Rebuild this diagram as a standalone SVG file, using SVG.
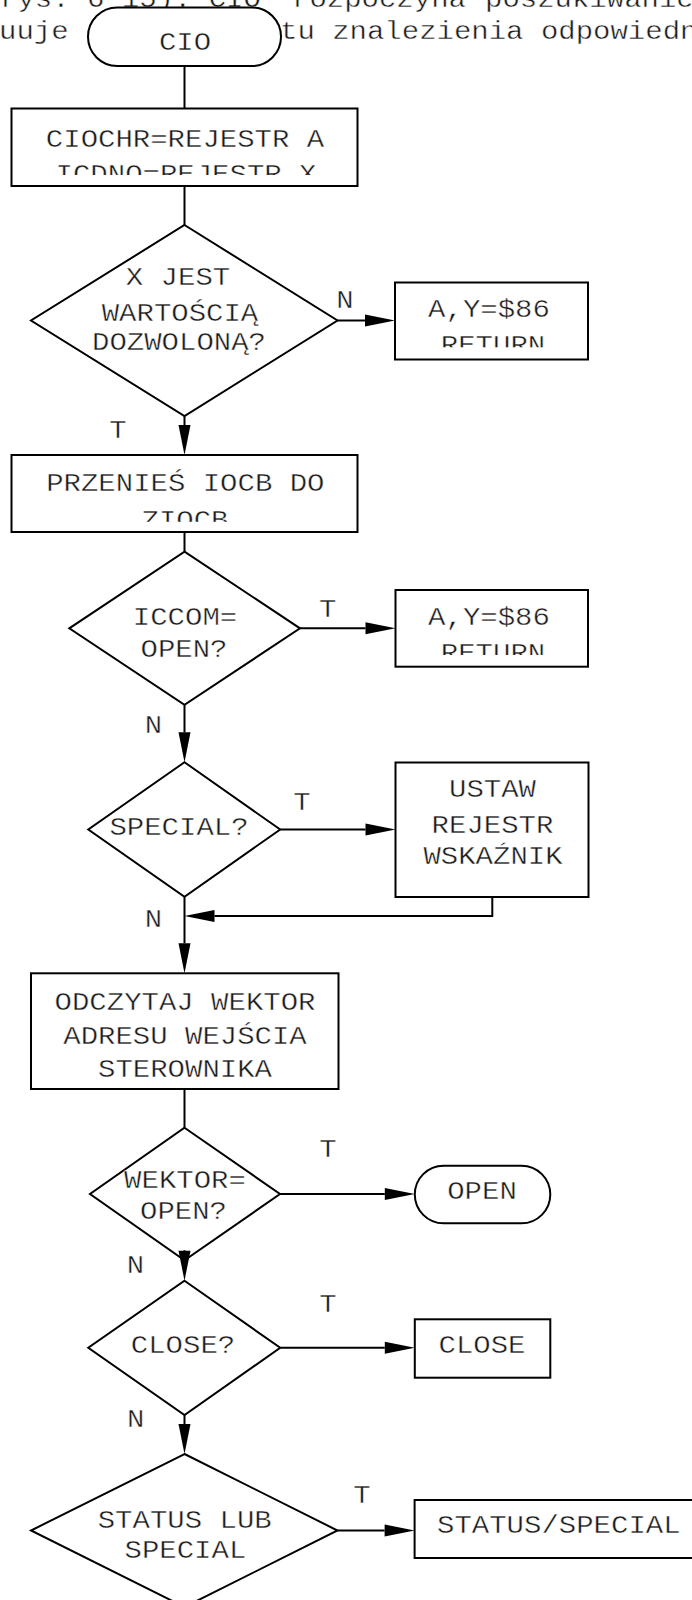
<svg xmlns="http://www.w3.org/2000/svg" width="692" height="1600" viewBox="0 0 692 1600">
  <style>
    .t { font-family: "Liberation Mono", "Courier New", monospace; font-size: 29px; fill: #1a1a1a; stroke: #fff; stroke-width: 0.45px; text-anchor: middle; }
    .s { text-anchor: start; }
    .box { fill: #fff; stroke: #000; stroke-width: 2; }
    .ln { fill: none; stroke: #000; stroke-width: 2; }
    .arr { marker-end: url(#ah); }
  </style>
  <defs>
    <marker id="ah" markerUnits="userSpaceOnUse" markerWidth="30" markerHeight="12" refX="0" refY="6" orient="auto" overflow="visible">
      <path d="M0,0 L30,6 L0,12 Z" fill="#000"/>
    </marker>
    <!-- text areas of the boxes whose second line is cut short -->
    <clipPath id="c1" clipPathUnits="userSpaceOnUse"><rect x="12" y="109" width="345" height="66"/></clipPath>
    <clipPath id="c2" clipPathUnits="userSpaceOnUse"><rect x="396" y="283" width="191" height="64.3"/></clipPath>
    <clipPath id="c3" clipPathUnits="userSpaceOnUse"><rect x="12" y="456" width="345" height="65.7"/></clipPath>
    <clipPath id="c4" clipPathUnits="userSpaceOnUse"><rect x="396" y="591" width="191" height="64"/></clipPath>
  </defs>

  <!-- surrounding page text (justified lines, partly hidden) -->
  <g id="page-text">
    <text class="t s" transform="translate(0,6.7) scale(1,.86)">rys. 6 15). CIO</text>
    <text class="t s" transform="translate(292,6.7) scale(1,.86)">rozpoczyna</text>
    <text class="t s" transform="translate(485,6.7) scale(1,.86)">poszukiwanie</text>
    <text class="t s" transform="translate(-1,39.3) scale(1,.86)">uuje</text>
    <text class="t s" transform="translate(280,39.3) scale(1,.86)">tu znalezienia odpowiedn</text>
  </g>

  <!-- connectors -->
  <g id="connectors">
    <path class="ln" d="M184.5,66 V108.5"/>
    <path class="ln" d="M184.5,186 V225"/>
    <path class="ln arr" d="M337.5,320.5 H365"/>
    <path class="ln arr" d="M184.5,416 V425"/>
    <path class="ln" d="M184.5,532 V551.7"/>
    <path class="ln arr" d="M300,628.3 H365.5"/>
    <path class="ln arr" d="M184.5,704.5 V732.3"/>
    <path class="ln arr" d="M280.2,829.5 H365.5"/>
    <path class="ln arr" d="M492.3,897 V916 H214.5"/>
    <path class="ln arr" d="M184.5,896.7 V943.3"/>
    <path class="ln" d="M184.5,1089 V1127.7"/>
    <path class="ln arr" d="M280,1194 H384.8"/>
    <path class="ln arr" d="M280.2,1347.8 H384.8"/>
    <path class="ln arr" d="M184.5,1415 V1424"/>
    <path class="ln arr" d="M337.5,1530.5 H384.6"/>
    <text class="t" transform="translate(345,308) scale(1,.86)">N</text>
    <text class="t" transform="translate(118,438) scale(1,.86)">T</text>
    <text class="t" transform="translate(327.7,616.7) scale(1,.86)">T</text>
    <text class="t" transform="translate(153.5,732.7) scale(1,.86)">N</text>
    <text class="t" transform="translate(302,810) scale(1,.86)">T</text>
    <text class="t" transform="translate(153.5,926.7) scale(1,.86)">N</text>
    <text class="t" transform="translate(328,1156.7) scale(1,.86)">T</text>
    <text class="t" transform="translate(135.5,1273) scale(1,.86)">N</text>
    <text class="t" transform="translate(328,1311.7) scale(1,.86)">T</text>
    <text class="t" transform="translate(135.7,1427.3) scale(1,.86)">N</text>
    <text class="t" transform="translate(362,1503.3) scale(1,.86)">T</text>
  </g>

  <g id="start-cio">
    <rect class="box" x="88" y="7.5" width="193" height="58.5" rx="29.25"/>
    <text class="t" transform="translate(185,50) scale(1,.86)">CIO</text>
  </g>

  <g id="set-registers">
    <rect class="box" x="11.5" y="108.5" width="346" height="77.5"/>
    <g clip-path="url(#c1)">
      <text class="t" transform="translate(185,146.5) scale(1,.86)">CIOCHR=REJESTR A</text>
      <text class="t" transform="translate(186,181.5) scale(1,.86)">ICDNO=REJESTR X</text>
    </g>
  </g>

  <g id="check-x">
    <polygon class="box" points="184.5,225 337.5,320.5 184.5,416 31,320.5"/>
    <text class="t" transform="translate(178,285) scale(1,.86)">X JEST</text>
    <text class="t" transform="translate(180,321) scale(1,.86)">WARTOŚCIĄ</text>
    <text class="t" transform="translate(179,350) scale(1,.86)">DOZWOLONĄ?</text>
  </g>

  <g id="error-x">
    <rect class="box" x="395" y="282.5" width="193" height="77"/>
    <g clip-path="url(#c2)">
      <text class="t" transform="translate(489,316.7) scale(1,.86)">A,Y=$86</text>
      <text class="t" transform="translate(493,353) scale(1,.86)">RETURN</text>
    </g>
  </g>

  <g id="copy-iocb">
    <rect class="box" x="11.5" y="455" width="346" height="77"/>
    <g clip-path="url(#c3)">
      <text class="t" transform="translate(185.3,490.7) scale(1,.86)">PRZENIEŚ IOCB DO</text>
      <text class="t" transform="translate(185,528) scale(1,.86)">ZIOCB</text>
    </g>
  </g>

  <g id="check-open">
    <polygon class="box" points="184.5,551.7 300,628.3 184.5,704.9 69.3,628.3"/>
    <text class="t" transform="translate(185,625) scale(1,.86)">ICCOM=</text>
    <text class="t" transform="translate(184,656.7) scale(1,.86)">OPEN?</text>
  </g>

  <g id="error-open">
    <rect class="box" x="395.5" y="590" width="192.5" height="76.7"/>
    <g clip-path="url(#c4)">
      <text class="t" transform="translate(489,625) scale(1,.86)">A,Y=$86</text>
      <text class="t" transform="translate(493,661) scale(1,.86)">RETURN</text>
    </g>
  </g>

  <g id="check-special">
    <polygon class="box" points="184.5,762.3 280.2,829.5 184.5,896.7 88.3,829.5"/>
    <text class="t" transform="translate(179,835) scale(1,.86)">SPECIAL?</text>
  </g>

  <g id="set-flag">
    <rect class="box" x="395.5" y="762.5" width="193" height="134.5"/>
    <text class="t" transform="translate(492.5,796.7) scale(1,.86)">USTAW</text>
    <text class="t" transform="translate(492.5,833) scale(1,.86)">REJESTR</text>
    <text class="t" transform="translate(493,864) scale(1,.86)">WSKAŹNIK</text>
  </g>

  <g id="read-vector">
    <rect class="box" x="31" y="973.3" width="307.5" height="115.7"/>
    <text class="t" transform="translate(185,1010) scale(1,.86)">ODCZYTAJ WEKTOR</text>
    <text class="t" transform="translate(185,1043.5) scale(1,.86)">ADRESU WEJŚCIA</text>
    <text class="t" transform="translate(185,1076.5) scale(1,.86)">STEROWNIKA</text>
  </g>

  <g id="check-vector-open">
    <polygon class="box" points="184.5,1127.7 280,1194 184.5,1260.3 90,1194"/>
    <text class="t" transform="translate(185,1188.3) scale(1,.86)">WEKTOR=</text>
    <text class="t" transform="translate(183.5,1219.3) scale(1,.86)">OPEN?</text>
  </g>

  <g id="open">
    <rect class="box" x="414.8" y="1165.7" width="135.5" height="57.6" rx="28.8"/>
    <text class="t" transform="translate(482,1199) scale(1,.86)">OPEN</text>
  </g>

  <!-- arrowhead reaching up into the vector test -->
  <path class="ln arr" d="M184.5,1250 V1250.7"/>

  <g id="check-close">
    <polygon class="box" points="184.5,1280.7 280.2,1347.8 184.5,1415 88.3,1347.8"/>
    <text class="t" transform="translate(183,1353.3) scale(1,.86)">CLOSE?</text>
  </g>

  <g id="close">
    <rect class="box" x="414.8" y="1319.3" width="135.5" height="58.4"/>
    <text class="t" transform="translate(482,1353.3) scale(1,.86)">CLOSE</text>
  </g>

  <g id="check-status">
    <polygon class="box" points="184.5,1454 337.5,1530.5 184.5,1607 31,1530.5"/>
    <text class="t" transform="translate(184.7,1527.7) scale(1,.86)">STATUS LUB</text>
    <text class="t" transform="translate(185.4,1558.3) scale(1,.86)">SPECIAL</text>
  </g>

  <g id="status-special">
    <rect class="box" x="414.6" y="1500" width="288" height="58"/>
    <text class="t" transform="translate(558.8,1533.3) scale(1,.86)">STATUS/SPECIAL</text>
  </g>
</svg>
